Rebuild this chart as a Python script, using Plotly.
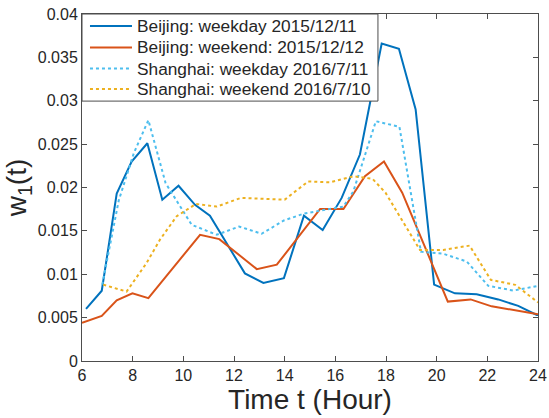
import plotly.graph_objects as go

# Beijing weekday 2015/12/11
bj_wd_x = [6.16, 6.78, 7.37, 7.96, 8.58, 9.17, 9.81, 10.46, 11.05, 12.43, 13.16, 13.97, 14.76, 15.5, 16.25, 16.97, 17.83, 18.51, 19.17, 19.9, 20.72, 21.58, 22.43, 23.22, 23.95, 24.0]
bj_wd_y = [0.0060, 0.0081, 0.0193, 0.0230, 0.0251, 0.0186, 0.0202, 0.0180, 0.01675, 0.0101, 0.0090, 0.00955, 0.01675, 0.0151, 0.0188, 0.0238, 0.0366, 0.0360, 0.0290, 0.0088, 0.0078, 0.0077, 0.0071, 0.00635, 0.0053, 0.0053]

# Beijing weekend 2015/12/12
bj_we_x = [6.0, 6.78, 7.37, 7.99, 8.62, 10.66, 11.42, 12.9, 13.69, 15.4, 16.32, 17.17, 17.92, 18.64, 20.44, 21.34, 22.17, 23.1, 24.0]
bj_we_y = [0.0044, 0.0052, 0.0070, 0.0078, 0.00724, 0.01455, 0.01405, 0.01059, 0.0111, 0.01752, 0.01752, 0.0213, 0.0230, 0.0194, 0.00685, 0.0071, 0.0063, 0.0058, 0.0054]

# Shanghai weekday 2016/7/11
sh_wd_x = [6.8, 7.45, 8.05, 8.62, 9.3, 10.33, 11.32, 12.2, 13.09, 13.97, 14.77, 15.66, 16.32, 16.71, 17.6, 18.53, 19.38, 20.26, 21.19, 22.04, 23.03, 24.0]
sh_wd_y = [0.0088, 0.0185, 0.0240, 0.02776, 0.0205, 0.0157, 0.01455, 0.0155, 0.01467, 0.0162, 0.0170, 0.01745, 0.0178, 0.01955, 0.02764, 0.0270, 0.0126, 0.01236, 0.01147, 0.00866, 0.00812, 0.00866]

# Shanghai weekend 2016/7/10
sh_we_x = [6.84, 7.76, 8.55, 9.08, 9.74, 10.5, 11.32, 12.27, 14.0, 14.93, 15.79, 16.71, 17.47, 17.98, 19.34, 20.26, 21.3, 22.14, 23.1, 24.0]
sh_we_y = [0.0088, 0.0080, 0.0113, 0.0140, 0.0167, 0.0181, 0.0178, 0.0188, 0.0186, 0.0207, 0.0206, 0.0213, 0.0210, 0.0194, 0.0128, 0.0128, 0.0133, 0.00935, 0.00878, 0.00675]

series_names = ["Beijing: weekday 2015/12/11", "Beijing: weekend: 2015/12/12",
                "Shanghai: weekday 2016/7/11", "Shanghai: weekend 2016/7/10"]
series_colors = ["#0072BD", "#D95319", "#4DBEEE", "#EDB120"]
series_dash = ["solid", "solid", "dot", "dot"]

x_ticks = [6, 8, 10, 12, 14, 16, 18, 20, 22, 24]
y_ticks = [0, 0.005, 0.01, 0.015, 0.02, 0.025, 0.03, 0.035, 0.04]
y_tick_labels = ["0", "0.005", "0.01", "0.015", "0.02", "0.025", "0.03", "0.035", "0.04"]

FONT = "Liberation Sans, Arial, Helvetica, sans-serif"
TXT = "#262626"

fig = go.Figure()
data = [(bj_wd_x, bj_wd_y), (bj_we_x, bj_we_y), (sh_wd_x, sh_wd_y), (sh_we_x, sh_we_y)]
for (xs, ys), nm, col, dsh in zip(data, series_names, series_colors, series_dash):
    fig.add_trace(go.Scatter(x=xs, y=ys, mode="lines", name=nm, showlegend=False,
                             line=dict(color=col, width=2, dash=dsh)))

# Manual legend (box, sample lines, labels) in paper coordinates
shapes = [dict(type="rect", xref="paper", yref="paper", x0=0, x1=0.649, y0=0.749, y1=1,
               fillcolor="white", line=dict(color="#4d4d4d", width=1), layer="above")]
annotations = []
row_y = [0.9654, 0.9035, 0.8429, 0.7839]
for ry, nm, col, dsh in zip(row_y, series_names, series_colors, series_dash):
    shapes.append(dict(type="line", xref="paper", yref="paper", x0=0.0175, x1=0.1096, y0=ry, y1=ry,
                       line=dict(color=col, width=2, dash=dsh), layer="above"))
    annotations.append(dict(xref="paper", yref="paper", x=0.1162, y=ry, xanchor="left", yanchor="middle",
                            text=nm, showarrow=False, font=dict(family=FONT, size=17.3, color=TXT)))

axis_common = dict(
    showline=True, linecolor="#4d4d4d", linewidth=1, mirror="allticks",
    ticks="inside", ticklen=5, tickcolor="#4d4d4d", showgrid=False, zeroline=False,
    tickfont=dict(family=FONT, size=16, color=TXT), automargin=False,
)

fig.update_layout(
    width=549, height=418,
    margin=dict(l=82, r=11, t=14, b=57),
    paper_bgcolor="white", plot_bgcolor="white",
    font=dict(family=FONT, color=TXT),
    xaxis=dict(range=[6, 24], tickvals=x_ticks, ticktext=[str(v) for v in x_ticks],
               title=dict(text="Time t (Hour)", font=dict(family=FONT, size=28, color=TXT), standoff=0),
               **axis_common),
    yaxis=dict(range=[0, 0.04], tickvals=y_ticks, ticktext=y_tick_labels,
               title=dict(text="w<sub>1</sub>(t)", font=dict(family=FONT, size=28, color=TXT), standoff=2),
               **axis_common),
    shapes=shapes,
    annotations=annotations,
    showlegend=False,
)

fig.write_html("out.html")
